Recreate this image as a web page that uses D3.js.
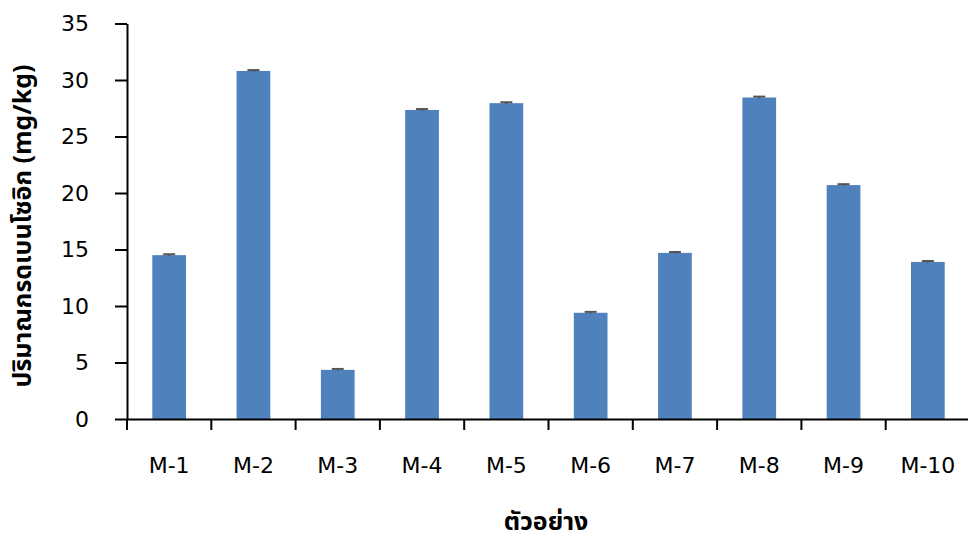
<!DOCTYPE html>
<html>
<head>
<meta charset="utf-8" />
<style>
	body { margin: 0; background: #fff; }
	svg { display: block; }
	.tick text { font-family: "DejaVu Sans", sans-serif; font-size: 22px; fill: #000; }
	.title { font-family: "Noto Sans Thai", "Noto Sans", "DejaVu Sans", sans-serif; font-weight: bold; font-size: 25px; fill: #000; }
</style>
<title>bar chart</title>
</head>
<body>
<script src="https://cdn.jsdelivr.net/npm/d3@7"></script>
<script>
	// data
	var samples = ["M-1", "M-2", "M-3", "M-4", "M-5", "M-6", "M-7", "M-8", "M-9", "M-10"];
	var amounts = [14.5, 30.8, 4.35, 27.35, 27.95, 9.4, 14.7, 28.45, 20.7, 13.9];
	var errors = [0.08, 0.08, 0.08, 0.08, 0.08, 0.08, 0.08, 0.08, 0.08, 0.08];
	var yTicks = [0, 5, 10, 15, 20, 25, 30, 35];

	var width = 968, height = 539;
	var plotLeft = 127, plotRight = 970, plotTop = 23.5, plotBottom = 419;

	var svg = d3.select("body").append("svg")
		.attr("width", width)
		.attr("height", height);

	var x = d3.scaleBand().domain(samples).range([plotLeft, plotRight]).padding(0);
	var y = d3.scaleLinear().domain([0, 35]).range([plotBottom, plotTop]);

	var barW = x.bandwidth() * 0.4;

	// bars
	svg.selectAll("rect.bar")
		.data(samples)
		.join("rect")
		.attr("class", "bar")
		.attr("x", d => x(d) + (x.bandwidth() - barW) / 2)
		.attr("width", barW)
		.attr("y", (d, i) => y(amounts[i]))
		.attr("height", (d, i) => y(0) - y(amounts[i]))
		.attr("fill", "#4f81bd");

	// error bars
	var eb = svg.selectAll("g.err")
		.data(samples)
		.join("g")
		.attr("class", "err")
		.attr("stroke", "#555")
		.attr("stroke-width", 2);
	eb.append("line")
		.attr("x1", d => x(d) + x.bandwidth() / 2)
		.attr("x2", d => x(d) + x.bandwidth() / 2)
		.attr("y1", (d, i) => y(amounts[i] - errors[i]))
		.attr("y2", (d, i) => y(amounts[i] + errors[i]));
	eb.append("line")
		.attr("x1", d => x(d) + x.bandwidth() / 2 - 6)
		.attr("x2", d => x(d) + x.bandwidth() / 2 + 6)
		.attr("y1", (d, i) => y(amounts[i] + errors[i]))
		.attr("y2", (d, i) => y(amounts[i] + errors[i]));

	// y axis
	var yAxis = svg.append("g")
		.attr("transform", `translate(${plotLeft},0)`)
		.call(d3.axisLeft(y).tickValues(yTicks).tickSize(12).tickPadding(26).tickSizeOuter(0));
	yAxis.selectAll("line, path").attr("stroke", "#000").attr("stroke-width", 2);

	// x axis with ticks between categories
	var xAxis = svg.append("g")
		.attr("transform", `translate(0,${plotBottom})`)
		.call(d3.axisBottom(x).tickSize(0).tickPadding(38).tickSizeOuter(0));
	xAxis.select("path").attr("stroke", "#000").attr("stroke-width", 2);
	xAxis.selectAll(".sep")
		.data(samples)
		.join("line")
		.attr("class", "sep")
		.attr("x1", d => x(d))
		.attr("x2", d => x(d))
		.attr("y1", 0)
		.attr("y2", 11)
		.attr("stroke", "#000")
		.attr("stroke-width", 2);

	// axis titles
	svg.append("text")
		.attr("class", "title")
		.attr("text-anchor", "middle")
		.attr("transform", `translate(31,226) rotate(-90)`)
		.text("ปริมาณกรดเบนโซอิก (mg/kg)");

	svg.append("text")
		.attr("class", "title")
		.attr("text-anchor", "middle")
		.attr("x", 546)
		.attr("y", 530)
		.text("ตัวอย่าง");
</script>
</body>
</html>
